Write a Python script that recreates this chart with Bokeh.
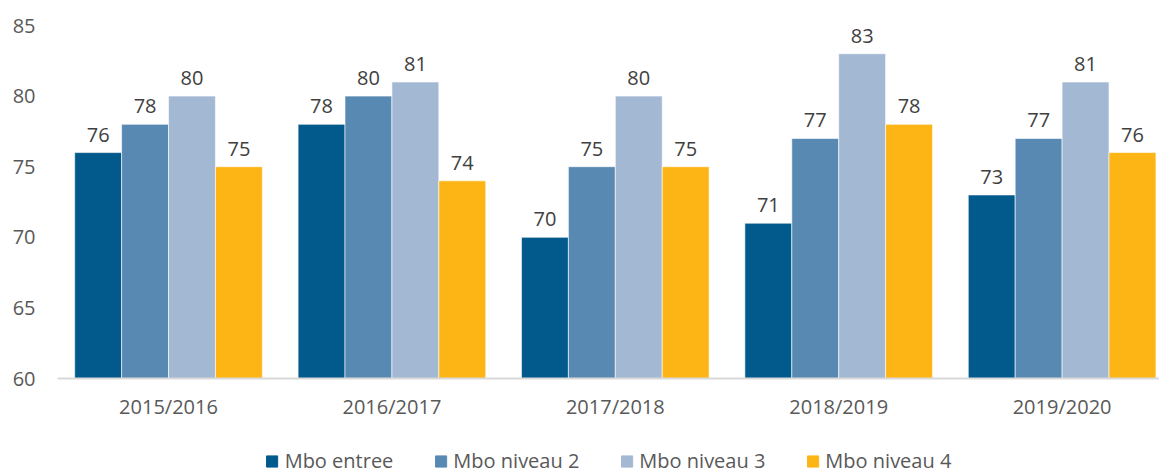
from bokeh.plotting import figure
from bokeh.models import ColumnDataSource, Range1d, FixedTicker, Legend, LegendItem
from bokeh.layouts import column
from bokeh.embed import file_html
from bokeh.resources import INLINE
from bokeh.core.properties import value

years = ["2015/2016", "2016/2017", "2017/2018", "2018/2019", "2019/2020"]
series = ["Mbo entree", "Mbo niveau 2", "Mbo niveau 3", "Mbo niveau 4"]
mbo_entree = [76, 78, 70, 71, 73]
mbo_niveau2 = [78, 80, 75, 77, 77]
mbo_niveau3 = [80, 81, 80, 83, 81]
mbo_niveau4 = [75, 74, 75, 78, 76]
y_ticks = [60, 65, 70, 75, 80, 85]

values = [mbo_entree, mbo_niveau2, mbo_niveau3, mbo_niveau4]
colors = ["#02598C", "#5889B3", "#A3B8D3", "#FDB515"]
FONT = "Open Sans"
TXT = "#595959"

p = figure(width=1159, height=440, output_backend="svg", toolbar_location=None,
           x_range=Range1d(-0.497, 4.436), y_range=Range1d(60, 85),
           min_border_left=57, min_border_top=25, min_border_right=0, min_border_bottom=62)
p.outline_line_color = None
p.xgrid.visible = False
p.ygrid.visible = False
p.background_fill_color = "white"
p.border_fill_color = "white"

w = 0.21
xs = list(range(len(years)))
for k, (name, vals, col) in enumerate(zip(series, values, colors)):
    off = (k - 1.5) * w
    src = ColumnDataSource(dict(x=[i + off for i in xs], top=vals,
                                lab=[str(v) for v in vals]))
    p.vbar(x="x", top="top", bottom=60, width=w, source=src,
           fill_color=col, line_color="white", line_width=0.6)
    p.text(x="x", y="top", text="lab", source=src, text_align="center",
           text_baseline="alphabetic", y_offset=-18, text_color="#404040",
           text_font=value(FONT), text_font_size="20px")

p.xaxis.ticker = FixedTicker(ticks=xs)
p.xaxis.major_label_overrides = {i: y for i, y in enumerate(years)}
p.xaxis.axis_line_color = "#D9D9D9"
p.xaxis.axis_line_width = 2
p.xaxis.major_tick_line_color = None
p.xaxis.minor_tick_line_color = None
p.xaxis.major_tick_out = 0
p.xaxis.major_label_standoff = 14
p.xaxis.major_label_text_font = FONT
p.xaxis.major_label_text_font_size = "20px"
p.xaxis.major_label_text_color = TXT

p.yaxis.ticker = FixedTicker(ticks=y_ticks)
p.yaxis.axis_line_color = None
p.yaxis.major_tick_line_color = None
p.yaxis.minor_tick_line_color = None
p.yaxis.major_tick_out = 0
p.yaxis.major_label_standoff = 22
p.yaxis.major_label_text_font = FONT
p.yaxis.major_label_text_font_size = "20px"
p.yaxis.major_label_text_color = TXT

# legend figure below the chart
lg = figure(width=1159, height=45, output_backend="svg", toolbar_location=None,
            x_range=Range1d(0, 1), y_range=Range1d(0, 1),
            x_axis_type=None, y_axis_type=None,
            min_border_left=33, min_border_right=0, min_border_top=0, min_border_bottom=0)
lg.outline_line_color = None
lg.xgrid.visible = False
lg.ygrid.visible = False
items = []
for name, col in zip(series, colors):
    r = lg.vbar(x=[-5], top=[-5], bottom=[-6], width=0.1, fill_color=col, line_color=col)
    items.append(LegendItem(label=name, renderers=[r]))

legend = Legend(items=items, orientation="horizontal", location="top_center",
                label_text_font=FONT, label_text_font_size="20px",
                label_text_color=TXT, glyph_width=14, glyph_height=14,
                label_standoff=6, spacing=40, border_line_color=None,
                background_fill_alpha=0, padding=0, margin=7)
lg.add_layout(legend, "center")

open("out.html", "w").write(file_html(column(p, lg, spacing=0), INLINE))
